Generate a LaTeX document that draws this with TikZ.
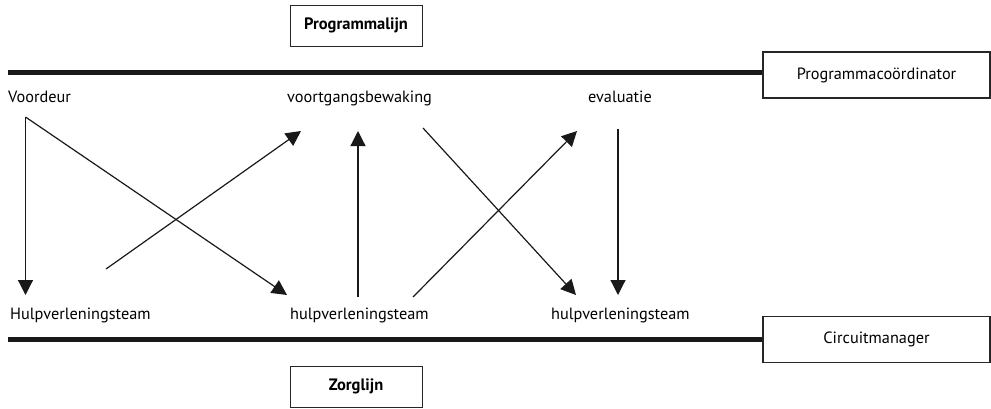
\documentclass[tikz,border=0pt]{standalone}
\usepackage{fontspec}
\setmainfont{PT Sans}
\usetikzlibrary{arrows.meta}

\tikzset{
  lijnbox/.style={draw=black!85, line width=1pt, minimum width=132pt, minimum height=41pt, font=\fontsize{16.5}{18}\selectfont\bfseries},
  rolbox/.style={draw=black!85, line width=1.2pt, minimum width=227pt, minimum height=46pt},
  label/.style={anchor=base west, inner sep=0pt},
  lijn/.style={line width=5pt, black!90},
  pijl/.style={-{Triangle[length=15pt, width=15pt]}, line width=1.2pt, black!90}
}

\begin{document}
\begin{tikzpicture}[x=1pt, y=-1pt, font=\fontsize{16.3}{19}\selectfont]
				\useasboundingbox (0,0) rectangle (991,408);

				\node[lijnbox] at (356, 25.5) (programmalijn) {Programmalijn};
				\node[lijnbox] at (356, 386.5) (zorglijn) {Zorglijn};
				\node[rolbox] at (876.5, 75) (programmacoordinator) {Programmacoördinator};
				\node[rolbox] at (876.5, 339.5) (circuitmanager) {Circuitmanager};

				\node[label] at (8, 102) (voordeur) {Voordeur};
				\node[label] at (287, 102) (voortgangsbewaking) {voortgangsbewaking};
				\node[label] at (588, 102) (evaluatie) {evaluatie};
				\node[label] at (10, 319) (hulpverleningsteam-links) {Hulpverleningsteam};
				\node[label] at (290, 319) (hulpverleningsteam-midden) {hulpverleningsteam};
				\node[label] at (551, 319) (hulpverleningsteam-rechts) {hulpverleningsteam};

				\draw[lijn] (8, 72.5) -- (programmacoordinator.west |- 0, 72.5);
				\draw[lijn] (8, 339.5) -- (circuitmanager.west);

				\coordinate (voordeur-uit) at (25.5, 117);
				\coordinate (links-in) at (25.5, 295);
				\coordinate (links-uit) at (106, 269);
				\coordinate (midden-in) at (287, 295);
				\coordinate (midden-uit) at (358, 297);
				\coordinate (midden-rechts-uit) at (413, 297);
				\coordinate (voortgang-in-links) at (301, 131);
				\coordinate (voortgang-in) at (358, 131);
				\coordinate (voortgang-uit) at (423, 128);
				\coordinate (evaluatie-in) at (577, 131);
				\coordinate (evaluatie-uit) at (618, 129);
				\coordinate (rechts-in-links) at (576, 295);
				\coordinate (rechts-in) at (618, 295);

				\draw[pijl] (voordeur-uit) -- (links-in);
				\draw[pijl] (voordeur-uit) -- (midden-in);
				\draw[pijl] (links-uit) -- (voortgang-in-links);
				\draw[pijl] (midden-uit) -- (voortgang-in);
				\draw[pijl] (voortgang-uit) -- (rechts-in-links);
				\draw[pijl] (midden-rechts-uit) -- (evaluatie-in);
				\draw[pijl] (evaluatie-uit) -- (rechts-in);
\end{tikzpicture}
\end{document}
